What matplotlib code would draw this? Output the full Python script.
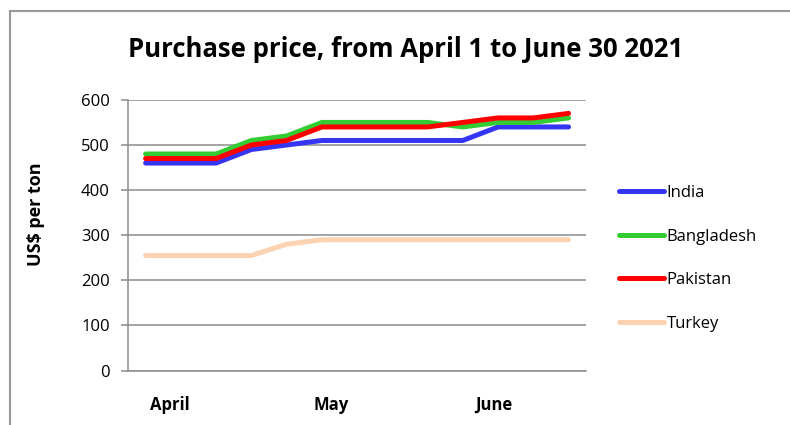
import matplotlib.pyplot as plt
from matplotlib.lines import Line2D

# weekly purchase prices, US$ per ton
weeks = list(range(13))
india = [460, 460, 460, 490, 500, 510, 510, 510, 510, 510, 540, 540, 540]
bangladesh = [480, 480, 480, 510, 520, 550, 550, 550, 550, 540, 550, 550, 560]
pakistan = [470, 470, 470, 500, 510, 540, 540, 540, 540, 550, 560, 560, 570]
turkey = [255, 255, 255, 255, 280, 290, 290, 290, 290, 290, 290, 290, 290]

month_labels = ['April', 'May', 'June']
month_pos = [0.7, 5.27, 9.87]

plt.rcParams['font.family'] = ['Open Sans', 'DejaVu Sans']

fig = plt.figure(figsize=(7.9, 4.25), dpi=100)
ax = fig.add_axes([0.162, 0.128, 0.580, 0.637])

grid_c = '#8c8c8c'
lw = 3.6
ax.plot(weeks, india, color='#3535f5', lw=lw, label='India', solid_capstyle='round')
ax.plot(weeks, bangladesh, color='#33cc33', lw=lw, label='Bangladesh', solid_capstyle='round')
ax.plot(weeks, pakistan, color='#ff0000', lw=lw, label='Pakistan', solid_capstyle='round')
ax.plot(weeks, turkey, color='#fcd3b2', lw=lw, label='Turkey', solid_capstyle='round')

ax.set_xlim(-0.5, 12.5)
ax.set_ylim(0, 600)
ax.set_yticks(range(0, 601, 100))
ax.yaxis.grid(True, color=grid_c, lw=1.1)
ax.set_axisbelow(True)

ax.set_xticks(month_pos)
ax.set_xticklabels(month_labels, fontweight='bold', fontsize=12)
ax.tick_params(axis='x', length=0, pad=18)
ax.tick_params(axis='y', length=5, color=grid_c, width=1.1, labelsize=12, pad=8)

for s in ['top', 'right']:
    ax.spines[s].set_visible(False)
for s in ['left', 'bottom']:
    ax.spines[s].set_color(grid_c)
    ax.spines[s].set_linewidth(1.1)

ax.set_ylabel('US$ per ton', fontweight='bold', fontsize=13)
ax.yaxis.set_label_coords(-0.181, 0.576)
fig.suptitle('Purchase price, from April 1 to June 30 2021',
             fontweight='bold', fontsize=18.5, x=0.514, y=0.915)

ax.legend(loc='upper left', bbox_to_anchor=(0.775, 0.58), bbox_transform=fig.transFigure,
          frameon=False, fontsize=12, handlelength=2.7, handletextpad=0.15,
          labelspacing=1.65, borderaxespad=0)

# chart frame (left and top edges)
fig.add_artist(Line2D([10/790, 10/790], [0, 1 - 11/425], color='#999999', lw=1.5))
fig.add_artist(Line2D([10/790, 1], [1 - 11/425, 1 - 11/425], color='#999999', lw=1.5))

plt.savefig('out.png', dpi=100)
